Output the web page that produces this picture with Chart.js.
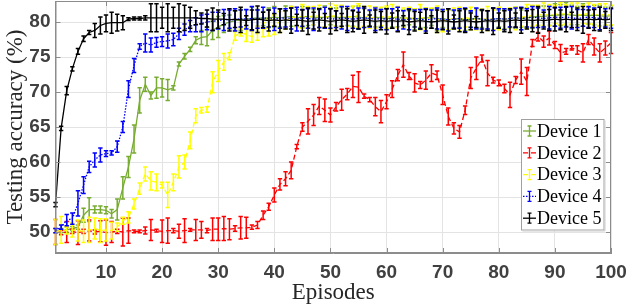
<!DOCTYPE html>
<html>
<head>
<meta charset="utf-8">
<script src="https://cdn.jsdelivr.net/npm/chart.js@4/dist/chart.umd.min.js"></script>
<style>
  html, body { margin: 0; padding: 0; background: #fff; }
  #chart { display: block; }
</style>
</head>
<body>
<canvas id="chart" width="632" height="308"></canvas>
<script>
// Episodes on the x axis
const episodes = Array.from({ length: 100 }, (_, i) => i + 1);
const xTicks = [10, 20, 30, 40, 50, 60, 70, 80, 90, 100];
const yTicks = [50, 55, 60, 65, 70, 75, 80];
const labels = ['Device 1', 'Device 2', 'Device 3', 'Device 4', 'Device 5'];

// Device 1 (green)
const device1 = [
    50.2, 50.2, 50.3, 50.5, 50.7, 52.4, 53.2, 53.2, 53.2, 53.1,
    52.6, 53.2, 56.3, 59.3, 63.3, 68.8, 71.1, 69.5, 70.6, 70.6,
    70.3, 70.6, 74.0, 75.1, 76.1, 77.4, 77.8, 77.9, 78.8, 79.3,
    79.7, 80.0, 80.2, 80.3, 80.4, 80.5, 80.6, 80.5, 80.6, 80.7,
    80.6, 80.7, 80.8, 80.6, 80.7, 80.8, 80.7, 80.6, 80.7, 80.8,
    80.7, 80.6, 80.7, 80.8, 80.7, 80.6, 80.5, 80.7, 80.6, 80.5,
    80.6, 80.7, 80.5, 80.6, 80.4, 80.5, 80.6, 80.7, 80.4, 80.5,
    80.3, 80.4, 80.5, 80.3, 80.4, 80.5, 80.4, 80.3, 80.4, 80.5,
    80.4, 80.5, 80.6, 80.5, 80.6, 80.7, 80.8, 80.8, 80.9, 81.0,
    81.0, 81.1, 81.0, 80.9, 81.0, 80.9, 81.0, 80.9, 80.8, 80.9
];
const device1Err = [
    0.3, 0.3, 0.4, 0.3, 0.3, 1.0, 1.7, 0.5, 0.5, 0.5,
    0.6, 1.5, 1.6, 1.5, 2.0, 1.8, 1.0, 0.5, 1.5, 1.3,
    1.5, 0.3, 0.3, 0.4, 0.3, 0.5, 1.0, 1.3, 1.3, 1.5,
    1.2, 1.0, 1.4, 1.5, 1.3, 1.6, 1.2, 1.0, 1.4, 1.5,
    1.3, 1.6, 1.4, 1.2, 1.5, 1.3, 1.1, 1.4, 1.6, 1.2,
    1.3, 1.5, 1.2, 1.4, 1.6, 1.3, 1.1, 1.4, 1.2, 1.5,
    1.3, 1.4, 1.2, 1.0, 1.5, 1.3, 1.4, 1.2, 1.6, 1.3,
    1.4, 1.2, 1.3, 1.5, 1.1, 1.4, 1.2, 1.3, 1.5, 1.2,
    1.4, 1.3, 1.5, 1.2, 1.4, 1.6, 1.3, 1.5, 1.4, 1.6,
    1.5, 1.7, 1.4, 1.3, 1.6, 1.2, 1.4, 1.5, 1.3, 1.4
];

// Device 2 (red)
const device2 = [
    50.0, 49.9, 50.0, 50.1, 49.9, 50.1, 50.2, 50.0, 50.1, 49.9,
    50.0, 50.1, 50.0, 50.2, 50.1, 50.1, 50.2, 50.3, 50.2, 50.1,
    50.2, 50.2, 50.1, 50.2, 50.3, 50.3, 50.3, 50.2, 50.4, 50.4,
    50.5, 50.4, 50.5, 50.6, 50.6, 50.7, 51.0, 52.4, 53.6, 55.3,
    56.8, 57.6, 58.8, 62.2, 65.0, 65.8, 66.7, 68.0, 67.4, 66.7,
    67.9, 68.9, 69.7, 70.8, 70.7, 69.4, 68.9, 67.9, 67.2, 68.6,
    70.4, 72.4, 73.9, 72.3, 71.3, 71.0, 71.7, 72.7, 72.4, 69.6,
    66.5, 64.8, 64.3, 67.4, 72.0, 73.4, 74.8, 72.7, 71.7, 71.3,
    70.5, 69.6, 71.7, 72.9, 71.5, 77.0, 77.9, 77.2, 77.7, 76.7,
    75.6, 75.8, 76.3, 76.0, 75.6, 77.5, 76.5, 75.6, 76.3, 77.0
];
const device2Err = [
    1.8, 0.3, 1.5, 0.3, 1.7, 0.3, 1.5, 0.3, 1.5, 1.8,
    1.5, 0.3, 2.0, 1.8, 0.2, 0.2, 0.5, 1.5, 0.2, 1.6,
    1.8, 0.3, 1.0, 1.7, 0.2, 1.5, 1.2, 0.3, 1.6, 1.6,
    1.7, 1.5, 0.4, 1.6, 1.5, 0.3, 0.5, 0.6, 0.5, 1.0,
    0.8, 1.0, 1.2, 0.3, 0.6, 1.8, 1.5, 1.2, 1.6, 1.0,
    0.6, 1.5, 0.8, 1.6, 2.2, 0.3, 0.3, 1.3, 1.6, 1.0,
    1.2, 0.8, 1.8, 0.5, 1.3, 0.5, 1.3, 1.2, 0.6, 1.4,
    1.2, 0.8, 0.9, 0.6, 1.5, 1.6, 0.5, 1.8, 0.4, 0.4,
    0.6, 1.8, 0.5, 1.8, 2.0, 0.5, 0.6, 0.8, 1.0, 0.5,
    1.2, 0.4, 0.3, 0.6, 1.3, 0.7, 1.2, 1.3, 1.0, 1.5
];

// Device 3 (yellow)
const device3 = [
    50.0, 50.3, 50.2, 50.3, 50.2, 50.1, 50.3, 50.5, 50.2, 50.3,
    50.2, 50.7, 51.6, 52.1, 54.0, 56.2, 58.3, 57.3, 57.1, 56.7,
    55.3, 57.1, 59.3, 60.0, 63.1, 66.6, 67.4, 67.5, 71.4, 73.0,
    74.3, 75.1, 78.0, 78.5, 78.2, 77.9, 78.4, 78.9, 79.2, 79.6,
    80.0, 80.3, 80.6, 80.7, 80.8, 80.7, 80.9, 80.8, 80.7, 80.8,
    80.9, 80.8, 80.7, 80.8, 80.9, 80.8, 80.7, 80.6, 80.8, 80.7,
    80.8, 80.7, 80.6, 80.5, 80.6, 80.7, 80.5, 80.6, 80.4, 80.2,
    80.3, 80.5, 80.4, 80.6, 80.5, 80.3, 80.4, 80.5, 80.3, 80.5,
    80.4, 80.6, 80.5, 80.7, 80.8, 80.9, 81.0, 81.1, 81.0, 81.1,
    81.2, 81.1, 81.2, 81.0, 81.1, 81.2, 81.1, 81.0, 81.1, 81.0
];
const device3Err = [
    1.8, 1.9, 0.5, 1.0, 1.5, 1.6, 1.8, 1.5, 1.7, 1.6,
    1.2, 0.6, 0.5, 0.8, 0.7, 0.8, 1.0, 1.3, 1.2, 0.4,
    1.8, 1.2, 1.6, 1.0, 1.2, 1.0, 0.4, 0.4, 1.5, 1.5,
    1.2, 0.5, 0.6, 0.5, 1.0, 0.8, 1.0, 1.0, 1.2, 1.4,
    1.5, 1.3, 1.6, 1.4, 1.7, 1.5, 1.3, 1.6, 1.4, 1.8,
    1.5, 1.6, 1.3, 1.5, 1.7, 1.4, 1.6, 1.5, 1.3, 1.6,
    1.7, 1.5, 1.4, 1.6, 1.3, 1.8, 1.5, 1.4, 1.9, 1.6,
    1.4, 1.5, 1.7, 1.3, 1.6, 1.4, 1.5, 1.7, 1.4, 1.6,
    1.5, 1.4, 1.6, 1.3, 1.7, 1.5, 1.4, 1.6, 1.5, 1.3,
    1.6, 1.4, 1.5, 1.7, 1.3, 1.5, 1.4, 1.6, 1.5, 1.4
];

// Device 4 (blue)
const device4 = [
    50.2, 50.7, 51.7, 51.9, 54.1, 56.7, 59.3, 60.3, 61.0, 61.2,
    61.3, 62.2, 65.0, 70.4, 73.8, 76.5, 77.0, 76.7, 77.1, 77.2,
    77.3, 77.5, 78.3, 78.9, 79.4, 79.6, 79.8, 80.0, 80.1, 80.2,
    80.3, 80.4, 80.3, 80.5, 80.4, 80.5, 80.4, 80.6, 80.5, 80.4,
    80.5, 80.6, 80.5, 80.4, 80.6, 80.5, 80.4, 80.5, 80.6, 80.5,
    80.4, 80.6, 80.5, 80.4, 80.5, 80.6, 80.5, 80.4, 80.5, 80.4,
    80.5, 80.4, 80.3, 80.4, 80.5, 80.4, 80.3, 80.4, 80.5, 80.4,
    80.3, 80.4, 80.5, 80.3, 80.4, 80.5, 80.4, 80.3, 80.4, 80.5,
    80.4, 80.5, 80.6, 80.5, 80.6, 80.7, 80.6, 80.5, 80.6, 80.7,
    80.6, 80.7, 80.6, 80.5, 80.6, 80.7, 80.6, 80.5, 80.6, 80.5
];
const device4Err = [
    0.3, 0.3, 0.8, 0.8, 1.8, 1.2, 0.8, 1.0, 1.0, 0.4,
    0.3, 0.8, 0.8, 1.2, 1.0, 0.4, 1.3, 1.0, 0.7, 0.7,
    1.0, 0.9, 0.8, 0.8, 0.8, 1.0, 1.2, 1.1, 1.3, 1.2,
    1.5, 1.3, 1.6, 1.2, 1.4, 1.7, 1.3, 1.5, 1.2, 1.6,
    1.4, 1.3, 1.5, 1.7, 1.2, 1.4, 1.6, 1.3, 1.5, 1.4,
    1.2, 1.6, 1.7, 1.3, 1.5, 1.4, 1.2, 1.6, 1.3, 1.5,
    1.4, 1.7, 1.3, 1.5, 1.2, 1.4, 1.6, 1.3, 1.5, 1.4,
    1.6, 1.3, 1.4, 1.7, 1.2, 1.5, 1.4, 1.3, 1.6, 1.4,
    1.5, 1.2, 1.4, 1.6, 1.3, 1.5, 1.4, 1.2, 1.6, 1.3,
    1.5, 1.4, 1.6, 1.3, 1.2, 1.5, 1.4, 1.6, 1.3, 1.4
];

// Device 5 (black)
const device5 = [
    53.9, 64.8, 70.2, 73.3, 75.8, 77.6, 78.5, 78.8, 79.5, 79.8,
    79.9, 79.9, 79.9, 80.4, 80.5, 80.5, 80.6, 80.6, 80.6, 80.6,
    80.6, 80.6, 80.6, 80.6, 80.6, 80.6, 80.5, 80.5, 80.4, 80.4,
    80.4, 80.3, 80.4, 80.3, 80.2, 80.3, 80.4, 80.3, 80.2, 80.3,
    80.2, 80.3, 80.2, 80.3, 80.2, 80.1, 80.2, 80.3, 80.2, 80.1,
    80.2, 80.3, 80.2, 80.1, 80.2, 80.3, 80.2, 80.1, 80.2, 80.1,
    80.2, 80.1, 80.2, 80.0, 80.1, 80.2, 80.1, 80.0, 80.1, 80.2,
    80.1, 80.0, 80.1, 80.2, 80.1, 80.0, 80.1, 80.2, 80.1, 80.2,
    80.1, 80.2, 80.3, 80.2, 80.3, 80.2, 80.3, 80.2, 80.3, 80.4,
    80.3, 80.4, 80.3, 80.4, 80.3, 80.4, 80.3, 80.4, 80.3, 80.4
];
const device5Err = [
    0.3, 0.3, 0.6, 0.3, 0.4, 0.4, 0.3, 1.0, 1.2, 1.2,
    1.5, 1.2, 1.0, 0.2, 0.2, 0.2, 0.3, 2.0, 2.0, 1.5,
    2.0, 1.5, 2.0, 1.8, 1.5, 1.0, 0.8, 1.2, 1.6, 1.3,
    0.8, 1.6, 1.2, 1.8, 0.7, 1.4, 1.9, 1.1, 1.5, 0.9,
    1.7, 1.3, 1.8, 0.8, 1.5, 1.9, 1.2, 1.6, 1.0, 1.8,
    1.4, 0.9, 1.7, 1.5, 1.2, 1.9, 0.8, 1.6, 1.3, 1.8,
    1.1, 1.5, 0.7, 1.8, 1.4, 1.2, 1.7, 0.9, 1.6, 1.3,
    1.8, 1.0, 1.5, 1.7, 1.2, 0.8, 1.6, 1.4, 1.9, 1.1,
    1.5, 1.7, 1.0, 1.8, 1.3, 1.6, 1.9, 1.2, 1.5, 1.7,
    1.4, 1.8, 1.1, 1.6, 1.9, 1.3, 1.5, 1.7, 1.2, 1.6
];

const seriesValues = [device1, device2, device3, device4, device5];
const seriesErrors = [device1Err, device2Err, device3Err, device4Err, device5Err];
const colors = ['#77AC30', '#FF0000', '#FFFF00', '#0000FF', '#000000'];
const dashes = [[], [5, 3], [5, 3], [1.5, 1.5], []];

const gridColor = '#e3e3e3';
const axisColor = '#8c8c8c';
const tickFontColor = '#404040';

// Error bars, drawn right after each line so the stacking matches
const errorBars = {
    id: 'errorBars',
    afterDatasetDraw(chart, args) {
        const ds = chart.data.datasets[args.index];
        const xs = chart.scales.x;
        const ys = chart.scales.y;
        const ctx = chart.ctx;
        ctx.save();
        ctx.strokeStyle = ds.borderColor;
        ctx.lineWidth = 1.5;
        ctx.setLineDash([]);
        ds.data.forEach((p, i) => {
            const e = ds.errors[i];
            const px = xs.getPixelForValue(p.x);
            const top = ys.getPixelForValue(p.y + e);
            const bot = ys.getPixelForValue(p.y - e);
            ctx.beginPath();
            ctx.moveTo(px, top);
            ctx.lineTo(px, bot);
            ctx.moveTo(px - 2.2, top);
            ctx.lineTo(px + 2.2, top);
            ctx.moveTo(px - 2.2, bot);
            ctx.lineTo(px + 2.2, bot);
            ctx.stroke();
        });
        ctx.restore();
    }
};

// Box around the axes with inward tick marks, plus the legend
const frameAndLegend = {
    id: 'frameAndLegend',
    afterDraw(chart) {
        const { ctx, chartArea: a, scales } = chart;
        ctx.save();
        ctx.strokeStyle = axisColor;
        ctx.lineWidth = 1;
        ctx.setLineDash([]);
        ctx.strokeRect(a.left + 0.5, a.top + 0.5, a.right - a.left - 1, a.bottom - a.top - 1);
        ctx.beginPath();
        xTicks.forEach(v => {
            const px = Math.round(scales.x.getPixelForValue(v)) + 0.5;
            ctx.moveTo(px, a.bottom); ctx.lineTo(px, a.bottom - 5);
            ctx.moveTo(px, a.top); ctx.lineTo(px, a.top + 5);
        });
        yTicks.forEach(v => {
            const py = Math.round(scales.y.getPixelForValue(v)) + 0.5;
            ctx.moveTo(a.left, py); ctx.lineTo(a.left + 5, py);
            ctx.moveTo(a.right, py); ctx.lineTo(a.right - 5, py);
        });
        ctx.stroke();

        // legend
        const lx = 521.5, ly = 119.5, lw = 82.5, lh = 110.5;
        ctx.fillStyle = '#ffffff';
        ctx.fillRect(lx, ly, lw, lh);
        ctx.strokeStyle = '#a0a0a0';
        ctx.strokeRect(lx, ly, lw, lh);
        ctx.strokeStyle = '#d0d0d0';
        ctx.beginPath();
        ctx.moveTo(lx + lw + 1, ly + 1); ctx.lineTo(lx + lw + 1, ly + lh + 1); ctx.lineTo(lx + 1, ly + lh + 1);
        ctx.stroke();

        ctx.font = '18px "Liberation Serif", serif';
        ctx.textBaseline = 'middle';
        ctx.textAlign = 'left';
        labels.forEach((name, i) => {
            const cy = 131 + i * 21.8;
            ctx.strokeStyle = colors[i];
            ctx.lineWidth = 1.3;
            ctx.setLineDash(dashes[i]);
            ctx.beginPath();
            ctx.moveTo(523, cy); ctx.lineTo(536, cy);
            ctx.stroke();
            ctx.setLineDash([]);
            ctx.beginPath();
            ctx.moveTo(529.5, cy - 5); ctx.lineTo(529.5, cy + 5);
            ctx.moveTo(527.5, cy - 5); ctx.lineTo(531.5, cy - 5);
            ctx.moveTo(527.5, cy + 5); ctx.lineTo(531.5, cy + 5);
            ctx.stroke();
            ctx.fillStyle = '#000000';
            ctx.fillText(name, 537, cy + 1);
        });
        ctx.restore();
    }
};

const datasets = labels.map((name, i) => ({
    label: name,
    data: episodes.map((x, j) => ({ x: x, y: seriesValues[i][j] })),
    errors: seriesErrors[i],
    borderColor: colors[i],
    borderWidth: 1.3,
    borderDash: dashes[i],
    pointRadius: 0,
    tension: 0,
    fill: false,
    order: 5 - i
}));

new Chart(document.getElementById('chart'), {
    type: 'line',
    data: { datasets },
    options: {
        responsive: false,
        animation: false,
        devicePixelRatio: 1,
        layout: { padding: { top: 1, right: 21, bottom: 1, left: 2 } },
        plugins: {
            legend: { display: false },
            tooltip: { enabled: false }
        },
        scales: {
            x: {
                type: 'linear',
                min: 1,
                max: 100,
                afterBuildTicks: s => { s.ticks = xTicks.map(v => ({ value: v })); },
                afterFit: s => { s.height = 54; s.paddingLeft = 0; s.paddingRight = 0; },
                grid: { color: gridColor, drawTicks: false },
                border: { color: axisColor },
                ticks: {
                    color: tickFontColor,
                    font: { family: '"Liberation Sans", Arial, sans-serif', size: 19, weight: 'bold' },
                    padding: 8,
                    maxRotation: 0,
                    autoSkip: false
                },
                title: {
                    display: true,
                    text: 'Episodes',
                    color: '#262626',
                    font: { family: '"Liberation Serif", serif', size: 23 },
                    padding: 0
                }
            },
            y: {
                min: 47,
                max: 83,
                afterBuildTicks: s => { s.ticks = yTicks.map(v => ({ value: v })); },
                afterFit: s => { s.width = 53.5; s.paddingTop = 0; s.paddingBottom = 0; },
                grid: { color: gridColor, drawTicks: false },
                border: { color: axisColor },
                ticks: {
                    color: tickFontColor,
                    font: { family: '"Liberation Sans", Arial, sans-serif', size: 19, weight: 'bold' },
                    padding: 5
                },
                title: {
                    display: true,
                    text: 'Testing accuracy (%)',
                    color: '#262626',
                    font: { family: '"Liberation Serif", serif', size: 23 },
                    padding: 0
                }
            }
        }
    },
    plugins: [errorBars, frameAndLegend]
});
</script>
</body>
</html>
